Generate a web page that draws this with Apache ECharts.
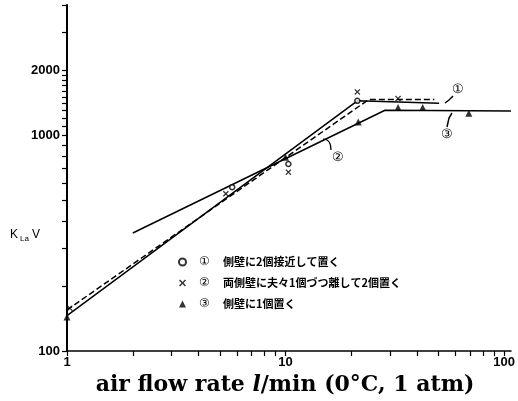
<!DOCTYPE html>
<html>
<head>
<meta charset="utf-8">
<script src="https://cdn.jsdelivr.net/npm/echarts@6/dist/echarts.min.js"></script>
<style>
  html, body { margin: 0; padding: 0; background: #fff; }
  #main { width: 518px; height: 401px; }
</style>
</head>
<body>
<div id="main"></div>
<script>
// 目盛
const xLabelValues = [1, 10, 100];
const yLabelValues = [100, 1000, 2000];
const xTickValues = [1, 2, 3, 4, 5, 6, 7, 8, 9, 10, 20, 30, 40, 50, 60, 70, 80, 90, 100];
const yTickValues = [100, 200, 300, 400, 500, 600, 700, 800, 900, 1000,
  1100, 1200, 1300, 1400, 1500, 1600, 1700, 1800, 1900, 2000, 3000, 4000];

// 凡例
const legendNums = ['①', '②', '③'];
const legendTexts = ['側壁に2個接近して置く', '両側壁に夫々1個づつ離して2個置く', '側壁に1個置く'];

// 実験点 [air flow rate, KLaV]
const circlePts = [[5.7, 574], [10.3, 735], [21.3, 1440]];
const crossPts = [[1.03, 158], [5.33, 535], [10.3, 673], [21.3, 1584], [32.7, 1476]];
const trianglePts = [[1, 144], [10, 790], [21.5, 1150], [32.7, 1343], [42.4, 1343], [68.9, 1262]];

// 折れ線
const line1 = [[1, 146], [21.3, 1440], [50.4, 1405]];
const line2 = [[1, 155], [24, 1460], [47.9, 1460]];
const line3 = [[2, 352], [28.5, 1303], [107.5, 1294]];

let myChart = echarts.init(document.getElementById('main'));

const crossPath = 'path://M0,1.5L1.5,0L5,3.5L8.5,0L10,1.5L6.5,5L10,8.5L8.5,10L5,6.5L1.5,10L0,8.5L3.5,5Z';
const lineStyle = { color: '#000', width: 1.5 };
const serif = 'DejaVu Serif';

let option = {
  animation: false,
  grid: { left: 67, right: 0, top: 5, bottom: 48 },
  xAxis: {
    type: 'log',
    min: 1,
    max: 107.5,
    name: 'air flow rate {i|l}/min (0°C, 1 atm)',
    nameLocation: 'middle',
    nameGap: 19,
    nameTextStyle: {
      fontFamily: serif,
      fontWeight: 'bold',
      fontSize: 22,
      color: '#000',
      padding: [0, 8, 0, 0],
      rich: {
        i: { fontFamily: serif, fontStyle: 'italic', fontWeight: 'bold', fontSize: 22, color: '#000' }
      }
    },
    axisLine: { lineStyle: { color: '#000', width: 1.5 } },
    axisTick: { customValues: xTickValues, length: 5, lineStyle: { color: '#000', width: 1.2 } },
    axisLabel: {
      customValues: xLabelValues,
      formatter: v => String(v),
      color: '#000', fontWeight: 'bold', fontSize: 13, margin: 5,
      fontFamily: 'Liberation Sans'
    },
    splitLine: { show: false }
  },
  yAxis: {
    type: 'log',
    min: 100,
    max: 4000,
    axisLine: { lineStyle: { color: '#000', width: 2 } },
    axisTick: { customValues: yTickValues, length: 5, lineStyle: { color: '#000', width: 1.2 } },
    axisLabel: {
      customValues: yLabelValues,
      formatter: v => String(v),
      color: '#000', fontWeight: 'bold', fontSize: 13, margin: 7,
      fontFamily: 'Liberation Sans'
    },
    splitLine: { show: false }
  },
  legend: {
    data: legendTexts,
    orient: 'vertical',
    left: 173,
    top: 251,
    itemWidth: 7,
    itemHeight: 7,
    itemGap: 9,
    selectedMode: false,
    formatter: function (name) {
      return '{n|' + legendNums[legendTexts.indexOf(name)] + '}{t|' + name + '}';
    },
    textStyle: {
      color: '#000',
      rich: {
        n: { fontSize: 12, width: 26, align: 'center', color: '#000', lineHeight: 14 },
        t: { fontSize: 11, fontWeight: 'bold', fontFamily: 'Noto Sans CJK JP', color: '#000', padding: [0, 0, 0, 6], lineHeight: 14 }
      }
    }
  },
  graphic: [
    { type: 'text', left: 10, top: 229,
      style: { text: 'K{s|La}V', fill: '#000', font: '12px "Liberation Sans"',
        rich: { s: { fontSize: 8, verticalAlign: 'bottom', lineHeight: 15, padding: [0, 3, 0, 2] } } } },
    { type: 'text', x: 458, y: 89, style: { text: '①', fill: '#000', fontSize: 13, align: 'center', verticalAlign: 'middle' } },
    { type: 'text', x: 338, y: 157, style: { text: '②', fill: '#000', fontSize: 13, align: 'center', verticalAlign: 'middle' } },
    { type: 'text', x: 447, y: 134, style: { text: '③', fill: '#000', fontSize: 13, align: 'center', verticalAlign: 'middle' } },
    { type: 'polyline', shape: { points: [[453, 96], [449, 100], [445, 103]] }, style: { stroke: '#000', lineWidth: 1.5, fill: null } },
    { type: 'bezierCurve', shape: { x1: 323, y1: 139, cpx1: 331, cpy1: 139, x2: 331, y2: 150 }, style: { stroke: '#000', lineWidth: 1.2, fill: null } },
    { type: 'polyline', shape: { points: [[447, 127], [449, 118], [452, 113]] }, style: { stroke: '#000', lineWidth: 1.5, fill: null } }
  ],
  series: [
    { name: 'line1', type: 'line', data: line1, symbol: 'none', lineStyle: lineStyle, z: 2 },
    { name: 'line2', type: 'line', data: line2, symbol: 'none', lineStyle: { color: '#000', width: 1.5, type: [6, 3] }, z: 2 },
    { name: 'line3', type: 'line', data: line3, symbol: 'none', lineStyle: lineStyle, z: 2 },
    { name: legendTexts[0], type: 'scatter', data: circlePts, symbol: 'circle', symbolSize: 5,
      itemStyle: { color: '#fff', borderColor: '#000', borderWidth: 1.5 }, z: 3 },
    { name: legendTexts[1], type: 'scatter', data: crossPts, symbol: crossPath, symbolSize: 6,
      itemStyle: { color: '#000' }, z: 3 },
    { name: legendTexts[2], type: 'scatter', data: trianglePts, symbol: 'triangle', symbolSize: 7,
      itemStyle: { color: '#000' }, z: 3 }
  ]
};
myChart.setOption(option);
</script>
</body>
</html>
